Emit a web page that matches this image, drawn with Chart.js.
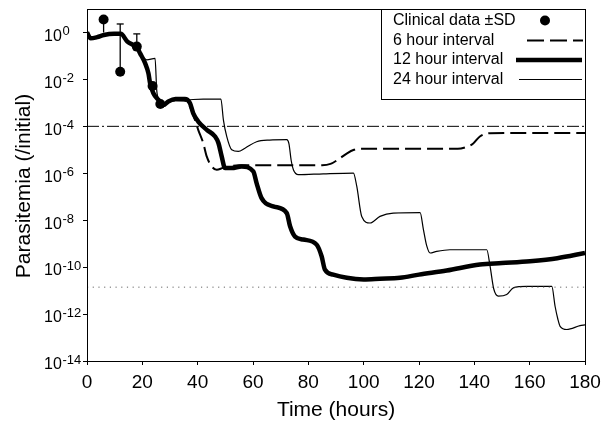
<!DOCTYPE html>
<html>
<head>
<meta charset="utf-8">
<script src="https://cdn.jsdelivr.net/npm/chart.js@4.4.1/dist/chart.umd.min.js"></script>
<style>
html,body{margin:0;padding:0;background:#fff;overflow:hidden;}
canvas{display:block;}
</style>
</head>
<body>
<canvas id="c" width="602" height="432"></canvas>
<script>
// ---- data (time in hours, parasitemia relative to initial) ----
const xTicks = [0,20,40,60,80,100,120,140,160,180];
const yTickExps = [0,-2,-4,-6,-8,-10,-12,-14];

const clinHours = [6, 12, 18, 23.7, 26.5];
const clinValues = [3.6, 0.021, 0.25, 5.2e-3, 9e-4];
const clinSdLow  = [1.0, null, null, null, null];
const clinSdHigh = [null, 2.3, 0.87, null, null];

const hours6 = [0,1.3,3.7,6.1,9.8,12.2,14.6,18.2,19.2,21.0,22.2,22.8,24.0,25.8,27.6,29.4,32,35,36.6,38.4,40.2,42.0,43.3,45.1,46.9,49.2,55,65,75,85,88,91,94,96.5,98.7,110,120,134,137,139.5,142,145.7,155,165,180];
const para6 = [1.0,0.562,0.631,0.776,0.871,0.871,0.407,0.214,0.129,0.049,0.0182,0.00692,0.00257,0.00135,8.1e-4,1.15e-3,1.3e-3,1.26e-3,9.8e-4,3.1e-4,7.1e-5,1.95e-5,5.1e-6,1.95e-6,1.4e-6,1.7e-6,2.2e-6,2.2e-6,2.2e-6,2.2e-6,2.5e-6,4.0e-6,7.1e-6,1.0e-5,1.1e-5,1.1e-5,1.1e-5,1.1e-5,1.3e-5,1.8e-5,3.7e-5,5.1e-5,5.2e-5,5.2e-5,5.2e-5];

const hours12 = [0,1.3,3.7,6.1,9.8,12.2,14.6,18.2,19.2,21.0,22.2,22.8,24.0,25.8,27.6,29.4,32,35.4,37.2,38.4,40.2,43.3,46.3,47.5,48.7,49.9,52.3,55.9,60.1,61.3,63.1,67.3,72.2,73.4,75.2,78.2,83.0,84.8,86.0,89.0,93.9,100,105.9,113.1,120,130,142,150,160.1,170,180];
const para12 = [1.0,0.562,0.631,0.776,0.871,0.871,0.407,0.214,0.129,0.049,0.0182,0.00692,0.00257,0.00135,8.1e-4,1.15e-3,1.45e-3,1.45e-3,9.8e-4,3.6e-4,1.6e-4,7.1e-5,3.7e-5,1.95e-5,5.1e-6,1.66e-6,1.66e-6,1.95e-6,1.2e-6,3.8e-7,8.7e-8,3.9e-8,2.0e-8,5.5e-9,2.0e-9,1.5e-9,9.1e-10,2.9e-10,7.8e-11,4.8e-11,3.5e-11,3.0e-11,3.2e-11,3.5e-11,4.8e-11,7.2e-11,1.3e-10,1.5e-10,1.8e-10,2.4e-10,4.0e-10];

const hours24 = [0,1.3,3.7,6.1,9.8,12.2,14.6,18.2,19.2,21.6,24.6,25.2,26.0,27.6,29.4,31.8,36.6,42,48.4,49.3,50.5,52.3,54.7,57.1,61.3,66,72.2,73.0,73.8,74.6,76.4,85.4,96.3,97.5,99.3,102.3,105.9,110.7,120.4,121.6,122.8,124,126.4,131.2,144.5,145.7,147,148.7,151.7,154.1,158.9,168,169.2,170.2,171,173.4,178.2,180];
const para24 = [1.0,0.562,0.631,0.776,0.871,0.871,0.407,0.214,0.129,0.068,0.079,3.5e-3,1.4e-3,8.9e-4,1.12e-3,1.26e-3,1.35e-3,1.45e-3,1.45e-3,1.9e-4,3.7e-5,1.0e-5,8.5e-6,1.17e-5,2.2e-5,2.6e-5,2.7e-5,1.8e-5,3.5e-6,1.4e-6,8.7e-7,9.5e-7,1.02e-6,2.8e-7,1.45e-8,7.6e-9,1.45e-8,2.0e-8,2.1e-8,4.0e-9,8.0e-10,4.0e-10,4.7e-10,5.5e-10,5.5e-10,1.07e-10,1.2e-11,5.8e-12,6.8e-12,1.3e-11,1.5e-11,1.5e-11,2.1e-12,6.0e-13,3.0e-13,2.2e-13,3.2e-13,3.5e-13];

const refHours = [0, 180];
const refDashDot = [1e-4, 1e-4];
const refDotted = [1.4e-11, 1.4e-11];

const legendLabels = ['Clinical data \u00B1SD','6 hour interval','12 hour interval','24 hour interval'];
const xTitle = 'Time (hours)';
const yTitle = 'Parasitemia (/initial)';

// ---- chart ----
const FONT = '"Liberation Sans", Arial, Helvetica, sans-serif';
const pts = (xs, ys) => xs.map((t, i) => ({x: t, y: ys[i]}));

const custom = {
  id: 'custom',
  beforeDatasetsDraw(chart) {
    const ctx = chart.ctx, xs = chart.scales.x, ys = chart.scales.y;
    ctx.save();
    ctx.strokeStyle = '#000';
    ctx.lineWidth = 1.3;
    clinHours.forEach((t, i) => {
      const px = xs.getPixelForValue(t);
      const py = ys.getPixelForValue(clinValues[i]);
      if (clinSdHigh[i] != null) {
        const pt = ys.getPixelForValue(clinSdHigh[i]);
        ctx.beginPath(); ctx.moveTo(px, py); ctx.lineTo(px, pt); ctx.stroke();
        ctx.beginPath(); ctx.moveTo(px - 3.5, pt); ctx.lineTo(px + 3.5, pt); ctx.stroke();
      }
      if (clinSdLow[i] != null) {
        const pb = ys.getPixelForValue(clinSdLow[i]);
        ctx.beginPath(); ctx.moveTo(px, py); ctx.lineTo(px, pb); ctx.stroke();
      }
    });
    ctx.restore();
  },
  afterDraw(chart) {
    const ctx = chart.ctx, a = chart.chartArea, ys = chart.scales.y;
    ctx.save();
    // frame
    ctx.strokeStyle = '#000'; ctx.lineWidth = 1;
    ctx.strokeRect(Math.round(a.left) + 0.5, Math.round(a.top) + 0.5, Math.round(a.right - a.left), Math.round(a.bottom - a.top));
    // y tick labels with superscripts
    ctx.fillStyle = '#000';
    ctx.textAlign = 'left';
    ctx.textBaseline = 'alphabetic';
    yTickExps.forEach(e => {
      const y = ys.getPixelForValue(Math.pow(10, e));
      ctx.font = '16px ' + FONT;
      ctx.fillText('10', 44, y + 8.3);
      ctx.font = '13px ' + FONT;
      ctx.fillText(String(e), 62.5, y + 2.7);
    });
    // axis titles
    ctx.font = '21px ' + FONT;
    ctx.textAlign = 'center';
    ctx.textBaseline = 'middle';
    ctx.fillText(xTitle, (a.left + a.right) / 2, 410);
    ctx.save();
    ctx.translate(24, (a.top + a.bottom) / 2 + 1);
    ctx.rotate(-Math.PI / 2);
    ctx.fillText(yTitle, 0, 0);
    ctx.restore();
    // legend
    const bx = 381.5, by = Math.round(a.top) + 0.5, bw = Math.round(a.right) - 381, bh = 90;
    ctx.fillStyle = '#fff';
    ctx.fillRect(bx, by, bw, bh);
    ctx.strokeStyle = '#000'; ctx.lineWidth = 1;
    ctx.strokeRect(bx, by, bw, bh);
    ctx.fillStyle = '#000';
    ctx.font = '16px ' + FONT;
    ctx.textAlign = 'left';
    ctx.textBaseline = 'middle';
    const rows = [20.5, 40.5, 60, 79.5];
    legendLabels.forEach((s, i) => ctx.fillText(s, 393, rows[i]));
    ctx.beginPath(); ctx.arc(545, rows[0], 5, 0, Math.PI * 2); ctx.fill();
    ctx.lineWidth = 2; ctx.setLineDash([17, 6]);
    ctx.beginPath(); ctx.moveTo(527, rows[1]); ctx.lineTo(583, rows[1]); ctx.stroke();
    ctx.setLineDash([]);
    ctx.lineWidth = 4.5;
    ctx.beginPath(); ctx.moveTo(516, rows[2]); ctx.lineTo(582, rows[2]); ctx.stroke();
    ctx.lineWidth = 1.2;
    ctx.beginPath(); ctx.moveTo(519, rows[3]); ctx.lineTo(582, rows[3]); ctx.stroke();
    ctx.restore();
  }
};

new Chart(document.getElementById('c'), {
  type: 'line',
  data: {
    datasets: [
      { label: 'ref1', data: pts(refHours, refDashDot), borderColor: '#000', borderWidth: 1, borderDash: [12, 3, 2, 3], pointRadius: 0, fill: false },
      { label: 'ref2', data: pts(refHours, refDotted), borderColor: '#666', borderWidth: 1, borderDash: [1.2, 4.5], pointRadius: 0, fill: false },
      { label: legendLabels[3], data: pts(hours24, para24), borderColor: '#000', borderWidth: 1.2, pointRadius: 0, cubicInterpolationMode: 'monotone', fill: false },
      { label: legendLabels[1], data: pts(hours6, para6), borderColor: '#000', borderWidth: 2, borderDash: [16, 6], pointRadius: 0, cubicInterpolationMode: 'monotone', fill: false },
      { label: legendLabels[2], data: pts(hours12, para12), borderColor: '#000', borderWidth: 4.5, pointRadius: 0, cubicInterpolationMode: 'monotone', fill: false },
      { label: legendLabels[0], data: pts(clinHours, clinValues), showLine: false, pointRadius: 5, pointBackgroundColor: '#000', pointBorderColor: '#000', borderWidth: 0 }
    ]
  },
  options: {
    responsive: false,
    animation: false,
    devicePixelRatio: 1,
    layout: { padding: { top: 9, right: 17, left: 0, bottom: 0 } },
    plugins: { legend: { display: false }, tooltip: { enabled: false } },
    scales: {
      x: {
        type: 'linear', min: 0, max: 180,
        afterFit: s => { s.height = 71; s.paddingLeft = 0; s.paddingRight = 0; },
        afterBuildTicks: s => { s.ticks = xTicks.map(v => ({ value: v })); },
        grid: { display: true, drawOnChartArea: false, drawTicks: true, tickLength: 4, color: '#000' },
        border: { display: true, color: '#000', width: 1 },
        ticks: { color: '#000', font: { family: FONT, size: 19 }, padding: 6, maxRotation: 0, autoSkip: false }
      },
      y: {
        type: 'logarithmic', min: 1e-14, max: 1e1,
        afterFit: s => { s.width = 87; s.paddingTop = 0; s.paddingBottom = 0; },
        afterBuildTicks: s => { s.ticks = yTickExps.map(e => ({ value: Math.pow(10, e) })); },
        grid: { display: true, drawOnChartArea: false, drawTicks: true, tickLength: 4, color: '#000' },
        border: { display: true, color: '#000', width: 1 },
        ticks: { callback: () => '', autoSkip: false }
      }
    }
  },
  plugins: [custom]
});
</script>
</body>
</html>
